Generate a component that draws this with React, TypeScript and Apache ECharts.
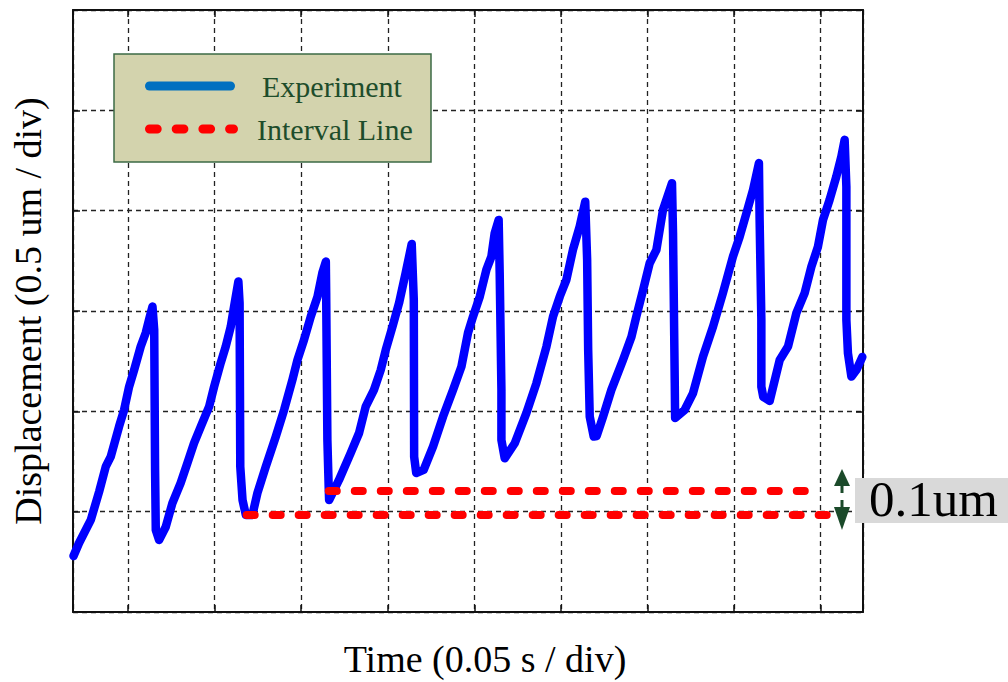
import React, { useEffect, useRef } from "react";
import * as echarts from "echarts";

// Experiment trace: time (s) and displacement (um)
const experimentTime = [
  0.0185, 0.0217, 0.0285, 0.0333, 0.0371, 0.0400, 0.0448, 0.0477, 0.0506, 0.0535, 0.0573, 0.0602, 0.0621, 0.0641,
  0.0651, 0.0656, 0.0660, 0.0679,
  0.0718, 0.0756, 0.0804, 0.0843, 0.0881, 0.0920, 0.0968, 0.0997, 0.1035, 0.1064, 0.1093, 0.1112, 0.1137,
  0.1144, 0.1148, 0.1161, 0.1180, 0.1218,
  0.1247, 0.1295, 0.1353, 0.1401, 0.1449, 0.1478, 0.1516, 0.1555, 0.1594, 0.1622, 0.1642,
  0.1644, 0.1651, 0.1659, 0.1661,
  0.1718, 0.1786, 0.1834, 0.1872, 0.1920, 0.1959, 0.1988, 0.2027, 0.2065, 0.2103, 0.2138,
  0.2150, 0.2152, 0.2164, 0.2207,
  0.2261, 0.2319, 0.2377, 0.2425, 0.2463, 0.2492, 0.2531, 0.2569, 0.2598, 0.2617, 0.2640,
  0.2646, 0.2656, 0.2656, 0.2675,
  0.2733, 0.2800, 0.2858, 0.2916, 0.2954, 0.2993, 0.3031, 0.3069, 0.3108, 0.3140,
  0.3151, 0.3157, 0.3166, 0.3189, 0.3206,
  0.3243, 0.3291, 0.3358, 0.3407, 0.3435, 0.3474, 0.3512, 0.3551, 0.3589, 0.3641,
  0.3647, 0.3657, 0.3659, 0.3714,
  0.3762, 0.3820, 0.3878, 0.3935, 0.3993, 0.4032, 0.4071, 0.4109, 0.4143,
  0.4147, 0.4157, 0.4157, 0.4168, 0.4205,
  0.4263, 0.4311, 0.4359, 0.4407, 0.4446, 0.4484, 0.4513, 0.4551, 0.4590, 0.4619, 0.4638,
  0.4648, 0.4648, 0.4657, 0.4677, 0.4706, 0.4740,
];

const experimentDisp = [
  0.279, 0.344, 0.459, 0.600, 0.724, 0.774, 0.924, 1.007, 1.123, 1.206, 1.323, 1.391, 1.456, 1.522,
  1.406, 0.708, 0.409, 0.359,
  0.425, 0.543, 0.643, 0.743, 0.842, 0.924, 1.023, 1.123, 1.241, 1.323, 1.422, 1.522, 1.647,
  1.540, 0.724, 0.558, 0.484, 0.484,
  0.593, 0.724, 0.874, 1.007, 1.157, 1.256, 1.356, 1.472, 1.572, 1.690, 1.746,
  1.590, 0.857, 0.608, 0.558,
  0.658, 0.793, 0.892, 1.023, 1.107, 1.206, 1.306, 1.422, 1.540, 1.690, 1.834,
  1.555, 0.774, 0.693, 0.708,
  0.824, 0.974, 1.107, 1.223, 1.391, 1.472, 1.572, 1.705, 1.771, 1.888, 1.954,
  1.690, 1.107, 0.857, 0.766,
  0.841, 0.991, 1.140, 1.323, 1.472, 1.572, 1.655, 1.805, 1.921, 2.045,
  1.755, 1.306, 0.974, 0.874, 0.877,
  0.974, 1.107, 1.256, 1.372, 1.472, 1.605, 1.738, 1.805, 2.004, 2.137,
  1.888, 1.140, 0.967, 1.007,
  1.090, 1.273, 1.422, 1.589, 1.771, 1.871, 1.988, 2.104, 2.237,
  1.954, 1.456, 1.123, 1.072, 1.052,
  1.256, 1.323, 1.489, 1.589, 1.721, 1.821, 1.954, 2.054, 2.170, 2.270, 2.353,
  2.120, 1.456, 1.290, 1.173, 1.206, 1.271,
];

// Interval lines: [start time, end time] and level (um)
const lowerIntervalTime = [0.1185, 0.4575];
const lowerIntervalLevel = 0.484;
const upperIntervalTime = [0.1659, 0.4482];
const upperIntervalLevel = 0.603;

const xMin = 0.0182;
const xMax = 0.4744;
const xStep = 0.05;
const yMin = 0;
const yMax = 3;
const yStep = 0.5;

const seriesNames = ["Experiment", "Interval Line"];
const xTitle = "Time (0.05 s / div)";
const yTitle = "Displacement (0.5 um / div)";
const gapLabel = "0.1um";

const SERIF = "'Liberation Serif', 'Times New Roman', serif";

export default function App() {
  const ref = useRef<HTMLDivElement>(null);

  useEffect(() => {
    if (!ref.current) return;
    const chart = echarts.init(ref.current, null, { renderer: "svg" });

    const expData = experimentTime.map((t, i) => [t, experimentDisp[i]]);
    const lowerData = lowerIntervalTime.map((t) => [t, lowerIntervalLevel]);
    const upperData = upperIntervalTime.map((t) => [t, upperIntervalLevel]);

    const gridLine = { show: true, lineStyle: { color: "#222", width: 1.3, type: [5, 4] as any } };
    const boxLine = { show: true, onZero: false, lineStyle: { color: "#111", width: 2 } };
    const tick = { show: true, inside: true, length: 7, lineStyle: { color: "#111", width: 1.5 } };

    const legendColor = "#1e4d2b";

    chart.setOption({
      animation: false,
      backgroundColor: "#ffffff",
      grid: { left: 73, right: 145, top: 10, bottom: 70, containLabel: false, outerBoundsMode: "none" },
      xAxis: [
        {
          type: "value",
          min: xMin,
          max: xMax,
          minInterval: xStep,
          maxInterval: xStep,
          splitNumber: 9,
          axisLine: boxLine,
          axisTick: tick,
          axisLabel: { show: false },
          splitLine: gridLine,
          name: xTitle,
          nameLocation: "middle",
          nameGap: 28,
          nameTextStyle: { fontFamily: SERIF, fontSize: 38, color: "#000", padding: [0, 0, 0, 34] },
        },
        {
          type: "value",
          position: "top",
          min: xMin,
          max: xMax,
          minInterval: xStep,
          maxInterval: xStep,
          splitNumber: 9,
          axisLine: boxLine,
          axisTick: tick,
          axisLabel: { show: false },
          splitLine: { show: false },
        },
      ],
      yAxis: [
        {
          type: "value",
          min: yMin,
          max: yMax,
          interval: yStep,
          axisLine: boxLine,
          axisTick: tick,
          axisLabel: { show: false },
          splitLine: gridLine,
          name: yTitle,
          nameLocation: "middle",
          nameGap: 26,
          nameTextStyle: { fontFamily: SERIF, fontSize: 38, color: "#000" },
        },
        {
          type: "value",
          position: "right",
          min: yMin,
          max: yMax,
          interval: yStep,
          axisLine: boxLine,
          axisTick: tick,
          axisLabel: { show: false },
          splitLine: { show: false },
        },
      ],
      series: [
        {
          name: seriesNames[0],
          type: "line",
          data: expData,
          showSymbol: false,
          symbol: "none",
          lineStyle: { color: "#0000ff", width: 8.5, join: "round", cap: "round" },
          z: 3,
        },
        {
          name: seriesNames[1],
          type: "line",
          data: lowerData,
          showSymbol: false,
          symbol: "none",
          lineStyle: { color: "#ff0000", width: 8, type: [8, 18], cap: "round" },
          z: 4,
        },
        {
          name: seriesNames[1],
          type: "line",
          data: upperData,
          showSymbol: false,
          symbol: "none",
          lineStyle: { color: "#ff0000", width: 8, type: [8, 18], cap: "round" },
          z: 4,
        },
      ],
      graphic: [
        // Legend box
        {
          type: "rect",
          z: 100,
          shape: { x: 114, y: 54, width: 317, height: 108 },
          style: { fill: "#d3d3ad", stroke: "#3d6b45", lineWidth: 1.5 },
        },
        {
          type: "line",
          z: 101,
          shape: { x1: 149.5, y1: 86, x2: 230.5, y2: 86 },
          style: { stroke: "#0070c0", lineWidth: 9, lineCap: "round" },
        },
        {
          type: "line",
          z: 101,
          shape: { x1: 149.5, y1: 129, x2: 233.5, y2: 129 },
          style: { stroke: "#ff0000", lineWidth: 9, lineCap: "round", lineDash: [7.7, 19] },
        },
        {
          type: "text",
          z: 101,
          x: 262,
          y: 86,
          style: {
            text: seriesNames[0],
            fill: legendColor,
            font: `30px ${SERIF}`,
            verticalAlign: "middle",
            align: "left",
          },
        },
        {
          type: "text",
          z: 101,
          x: 257,
          y: 129,
          style: {
            text: seriesNames[1],
            fill: legendColor,
            font: `30px ${SERIF}`,
            verticalAlign: "middle",
            align: "left",
          },
        },
        // Gap annotation
        {
          type: "rect",
          z: 100,
          shape: { x: 855, y: 478, width: 153, height: 45 },
          style: { fill: "#d9d9d9" },
        },
        {
          type: "text",
          z: 101,
          x: 869,
          y: 499,
          style: {
            text: gapLabel,
            fill: "#000",
            font: `51px ${SERIF}`,
            verticalAlign: "middle",
            align: "left",
          },
        },
        {
          type: "polygon",
          z: 101,
          shape: { points: [[834, 486], [850, 486], [842, 469]] },
          style: { fill: "#1b4a2a" },
        },
        {
          type: "rect",
          z: 101,
          shape: { x: 840.5, y: 485, width: 3, height: 8 },
          style: { fill: "#1b4a2a" },
        },
        {
          type: "polygon",
          z: 101,
          shape: { points: [[834, 507], [850, 507], [842, 530]] },
          style: { fill: "#1b4a2a" },
        },
        {
          type: "rect",
          z: 101,
          shape: { x: 840.5, y: 500, width: 3, height: 8 },
          style: { fill: "#1b4a2a" },
        },
      ],
    });

    return () => chart.dispose();
  }, []);

  return (
    <div
      ref={ref}
      style={{ position: "fixed", left: 0, top: 0, width: 1008, height: 682, background: "#fff" }}
    />
  );
}
